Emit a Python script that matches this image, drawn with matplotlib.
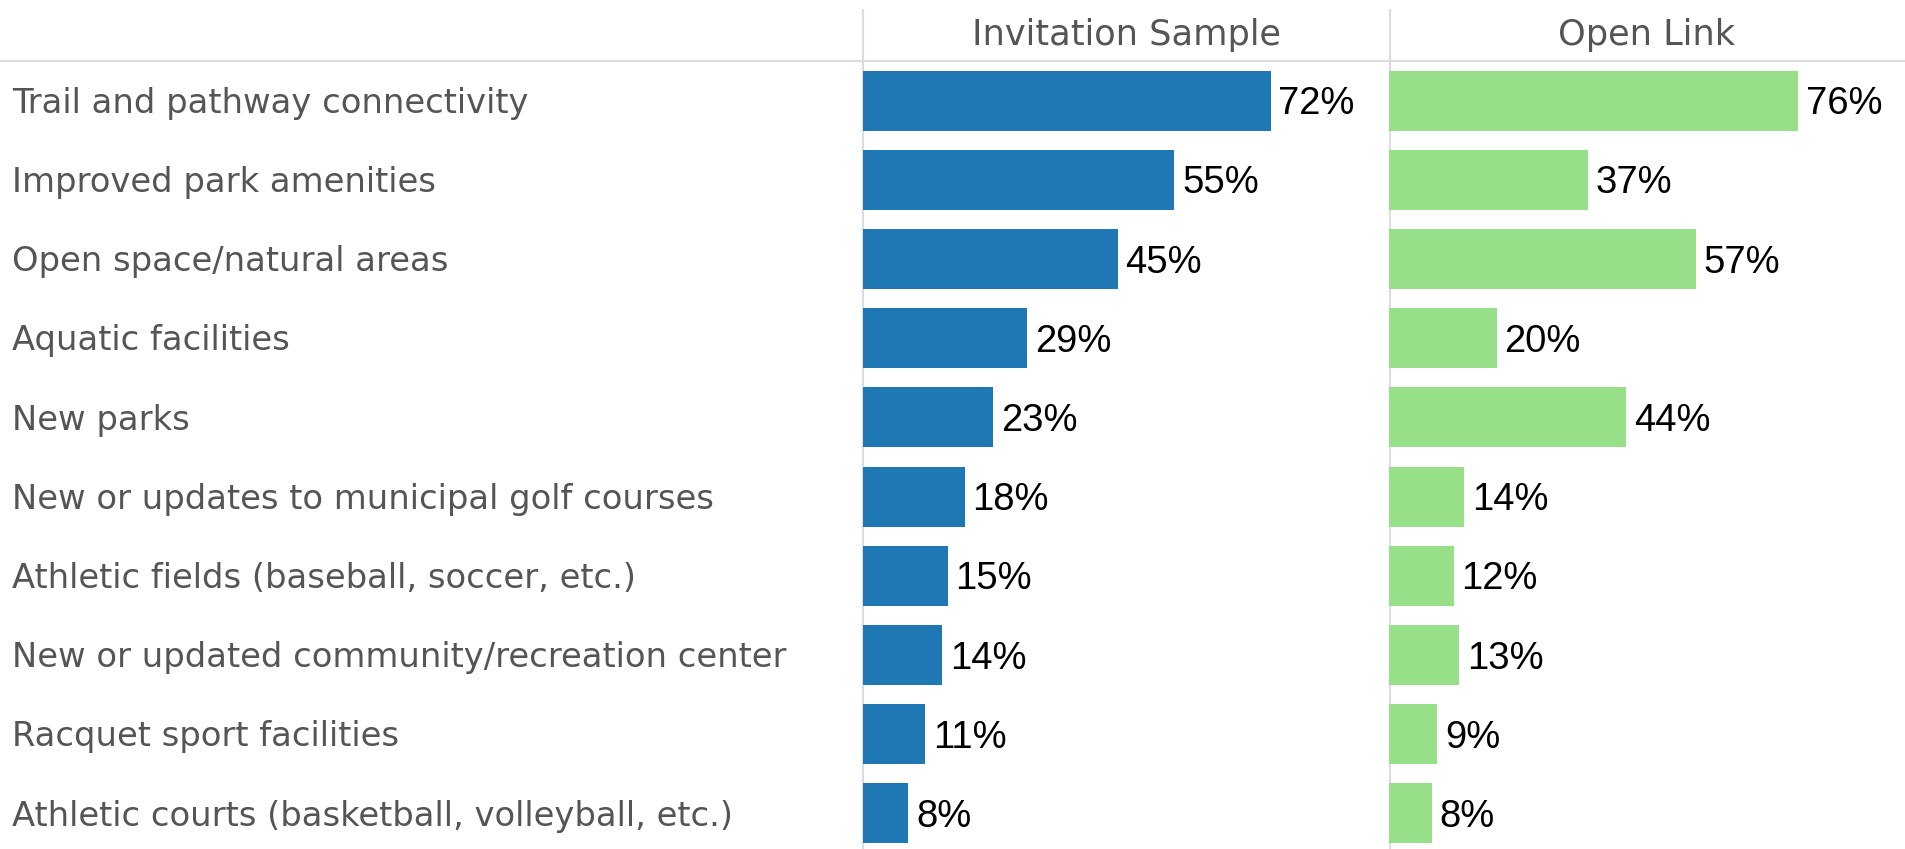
import matplotlib
matplotlib.use("Agg")
import matplotlib.pyplot as plt
from matplotlib import transforms
from matplotlib.lines import Line2D

categories = [
    "Trail and pathway connectivity",
    "Improved park amenities",
    "Open space/natural areas",
    "Aquatic facilities",
    "New parks",
    "New or updates to municipal golf courses",
    "Athletic fields (baseball, soccer, etc.)",
    "New or updated community/recreation center",
    "Racquet sport facilities",
    "Athletic courts (basketball, volleyball, etc.)",
]
invitation = [72, 55, 45, 29, 23, 18, 15, 14, 11, 8]
open_link = [76, 37, 57, 20, 44, 14, 12, 13, 9, 8]
panel_titles = ["Invitation Sample", "Open Link"]

W, H = 1905, 849
fig = plt.figure(figsize=(W / 100, H / 100), dpi=100)
fig.patch.set_facecolor("white")

grid_col = "#dcdcdc"
label_col = "#555555"


def px_box(x0, x1, ytop, ybot):
    return [x0 / W, (H - ybot) / H, (x1 - x0) / W, (ybot - ytop) / H]


ax1 = fig.add_axes(px_box(863, 1389, 61, 853))
ax2 = fig.add_axes(px_box(1389, 1905, 61, 853))

n = len(categories)
ypos = list(range(n))
panels = [(ax1, invitation, "#1f77b4", 92.9), (ax2, open_link, "#98df8a", 95.8)]

for (ax, vals, col, xmax), title in zip(panels, panel_titles):
    ax.barh(ypos, vals, height=0.76, color=col, left=0)
    ax.set_xlim(0, xmax)
    ax.set_ylim(n - 0.5, -0.5)
    ax.axis("off")
    for y, v in zip(ypos, vals):
        ax.annotate(f"{v}%", xy=(v, y), xytext=(5.5, -9.8), textcoords="offset points",
                    ha="left", va="baseline", fontsize=27.5, color="black",
                    family=["Liberation Sans", "DejaVu Sans"])
    # panel header
    bb = ax.get_position()
    fig.text(bb.x0 + bb.width / 2, (H - 45) / H, title, ha="center", va="baseline",
             fontsize=25.3, color=label_col, family="DejaVu Sans")

# category labels down the left side
lab_tr = transforms.blended_transform_factory(fig.transFigure, ax1.transData)
for y, c in zip(ypos, categories):
    ax1.annotate(c, xy=(12 / W, y), xycoords=lab_tr, xytext=(0, -8.8),
                 textcoords="offset points", ha="left", va="baseline",
                 fontsize=24.35, color=label_col, family="DejaVu Sans",
                 annotation_clip=False)

# header rule and panel dividers
fig.add_artist(Line2D([0, 1], [(H - 60.5) / H] * 2, transform=fig.transFigure,
                      color=grid_col, lw=1.5, zorder=0))
for xp in (862.5, 1389.5):
    fig.add_artist(Line2D([xp / W] * 2, [0, (H - 10) / H], transform=fig.transFigure,
                          color=grid_col, lw=1.5, zorder=0))

fig.savefig("out.png", dpi=100, facecolor="white")
